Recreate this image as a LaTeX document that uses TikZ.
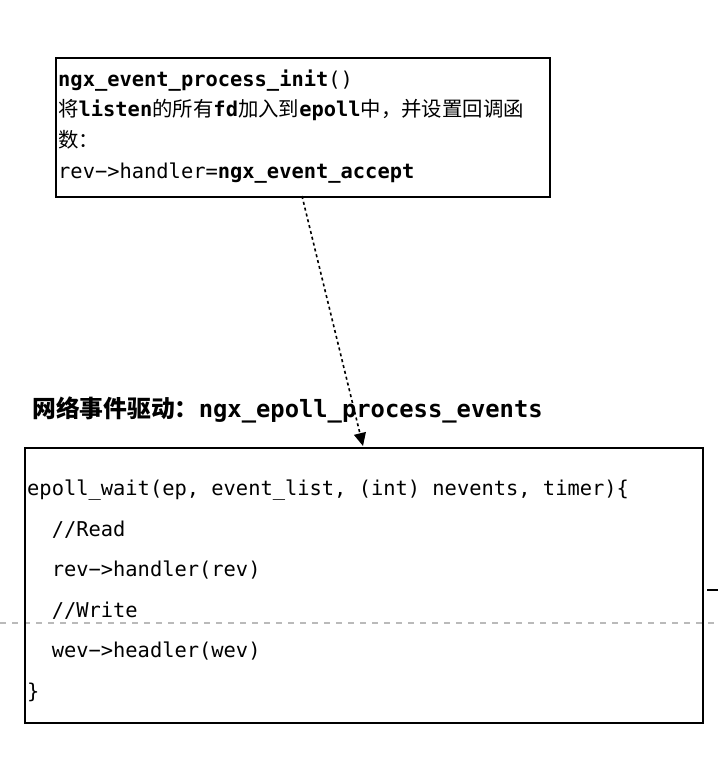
\documentclass[tikz,border=0pt]{standalone}
\usepackage{fontspec}
\setmonofont{DejaVu Sans Mono}
\newfontfamily\cjk{Noto Sans CJK SC}
\usetikzlibrary{arrows.meta}
\tikzset{
  box/.style={draw=black, line width=1.5pt, inner sep=0pt, anchor=north west},
  code/.style={anchor=base west, inner sep=0pt, font=\fontsize{20.4}{24}\ttfamily},
  title/.style={anchor=base west, inner sep=0pt, font=\fontsize{23.8}{28}\ttfamily\bfseries},
  link/.style={line width=1.6pt, dash pattern=on 3pt off 3pt, -{Triangle[length=13pt,width=12pt]}},
  guide/.style={draw=black!27, line width=1.5pt, dash pattern=on 6pt off 6pt},
}
\begin{document}
\begin{tikzpicture}[x=1pt,y=-1pt]
\useasboundingbox (0,0) rectangle (718,764);
% gray dashed guide line (behind)
\coordinate (gl) at (0,623);
\coordinate (gr) at (718,623);
\draw[guide] (gl) -- (gr);
% top box
\node[box, minimum width=494pt, minimum height=139pt] (init) at (55,57) {};
\node[code] (t1) at (58,86) {\textbf{ngx\_event\_process\_init}()};
\node[code] (t2) at (58,116) {{\cjk 将}\textbf{listen}{\cjk 的所有}\textbf{fd}{\cjk 加入到}\textbf{epoll}{\cjk 中，并设置回调函}};
\node[code] (t3) at (58,147) {{\cjk 数：}};
\node[code] (t4) at (58,178) {rev−>handler=\textbf{ngx\_event\_accept}};
% title
\node[title] (ttl) at (32,417) {{\cjk\bfseries 网络事件驱动：}ngx\_epoll\_process\_events};
% bottom box
\node[box, minimum width=678pt, minimum height=275pt] (loop) at (24,447) {};
\node[code] (b1) at (27,495.5) {epoll\_wait(ep, event\_list, (int) nevents, timer)\{};
\node[code] (b2) at (27,536) {\ \ //Read};
\node[code] (b3) at (27,576.5) {\ \ rev−>handler(rev)};
\node[code] (b4) at (27,617) {\ \ //Write};
\node[code] (b5) at (27,657.5) {\ \ wev−>headler(wev)};
\node[code] (b6) at (27,698) {\}};
% connector
\coordinate (a0) at (302,196);
\coordinate (a1) at (363,446);
\draw[link] (a0) -- (a1);
% small tick on the right
\coordinate (k0) at (707,590);
\coordinate (k1) at (718,590);
\draw[line width=1.5pt] (k0) -- (k1);
\end{tikzpicture}
\end{document}
